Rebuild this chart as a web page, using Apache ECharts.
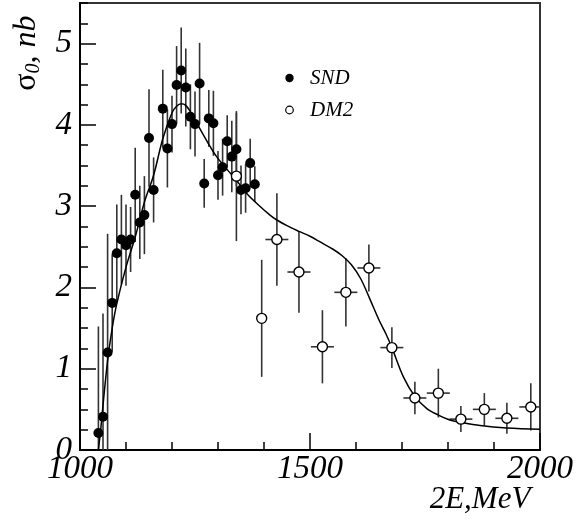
<!DOCTYPE html>
<html><head><meta charset="utf-8">
<script src="https://cdn.jsdelivr.net/npm/echarts@6/dist/echarts.min.js"></script>
<style>html,body{margin:0;padding:0;background:#fff}#c{width:584px;height:521px}</style>
</head><body><div id="c"></div>
<script>
const sndX = [1040,1050,1060,1070,1080,1090,1100,1110,1120,1130,1140,1150,1160,1180,1190,1200,1210,1220,1230,1240,1250,1260,1270,1280,1290,1300,1310,1320,1330,1340,1350,1360,1370,1380];
const sndY = [0.21,0.41,1.20,1.81,2.42,2.59,2.52,2.59,3.14,2.80,2.89,3.84,3.20,4.20,3.71,4.01,4.49,4.67,4.46,4.10,4.01,4.51,3.28,4.08,4.02,3.38,3.48,3.80,3.61,3.70,3.20,3.22,3.53,3.27];
const sndErr = [1.31,1.27,1.46,0.6,0.6,0.55,0.5,0.4,0.58,0.45,0.48,0.6,0.4,0.48,0.48,0.35,0.48,0.53,0.48,0.4,0.4,0.5,0.3,0.35,0.4,0.3,0.35,0.32,0.44,0.45,0.3,0.3,0.3,0.22];

const dm2X = [1340,1395,1428,1476,1527,1578,1628,1678,1728,1779,1828,1879,1928,1980];
const dm2Y = [3.37,1.62,2.59,2.19,1.27,1.94,2.24,1.26,0.64,0.70,0.38,0.50,0.39,0.53];
const dm2ErrY = [0.8,0.72,0.57,0.5,0.45,0.42,0.29,0.25,0.2,0.3,0.16,0.2,0.19,0.29];
const dm2ErrX = [0,0,25,25,25,25,25,25,25,25,25,25,25,25];

const fitX = [1040,1045,1050,1060,1070,1080,1100,1120,1140,1160,1180,1200,1210,1220,1230,1240,1255,1275,1297,1320,1340,1362,1385,1413,1428,1450,1476,1500,1522,1550,1570,1590,1610,1630,1650,1665,1678,1703,1728,1754,1779,1804,1828,1870,1928,2000];
const fitY = [0.0,0.25,0.55,1.1,1.5,1.8,2.25,2.62,3.05,3.38,3.83,4.15,4.23,4.26,4.24,4.16,4.01,3.81,3.61,3.45,3.32,3.16,3.03,2.89,2.83,2.76,2.69,2.63,2.56,2.47,2.39,2.28,2.11,1.86,1.60,1.43,1.26,0.9,0.66,0.51,0.43,0.37,0.34,0.3,0.27,0.255];

const xMin = 1000, xMax = 2000, xMajor = 500, xMinor = 100;
const yMin = 0, yMax = 5.5, yMajor = 1, yMinor = 0.25;

const FONT = 'Liberation Serif';

function errRender(params, api) {
  const x = api.value(0), y = api.value(1), ey = api.value(2), ex = api.value(3);
  const lo = api.coord([x, Math.max(y - ey, yMin)]);
  const hi = api.coord([x, Math.min(y + ey, yMax)]);
  const st = {stroke: '#333', lineWidth: 1.6};
  const children = [{type: 'line', shape: {x1: lo[0], y1: lo[1], x2: hi[0], y2: hi[1]}, style: st}];
  if (ex > 0) {
    const l = api.coord([x - ex, y]), r = api.coord([x + ex, y]);
    children.push({type: 'line', shape: {x1: l[0], y1: l[1], x2: r[0], y2: r[1]}, style: st});
  }
  return {type: 'group', children};
}

const chart = echarts.init(document.getElementById('c'));
const grid = {left: 80, right: 44, top: 3, bottom: 71, show: true, borderColor: '#333', borderWidth: 2, backgroundColor: 'transparent'};
chart.setOption({
  animation: false,
  backgroundColor: '#fff',
  grid: grid,
  xAxis: [
    {type: 'value', min: xMin, max: xMax, interval: xMajor, position: 'bottom',
     axisLine: {show: true, lineStyle: {color: '#000', width: 2}},
     axisTick: {show: true, inside: true, length: 17, lineStyle: {color: '#000', width: 1.5}},
     splitLine: {show: false},
     axisLabel: {fontFamily: FONT, fontStyle: 'italic', fontSize: 33, color: '#000', margin: 3, formatter: v => String(v)}},
    {type: 'value', min: xMin, max: xMax, interval: xMinor, position: 'bottom',
     axisLine: {show: false},
     axisTick: {show: true, inside: true, length: 8, lineStyle: {color: '#000', width: 1.5}},
     splitLine: {show: false}, axisLabel: {show: false}}
  ],
  yAxis: [
    {type: 'value', min: yMin, max: yMax, interval: yMajor, position: 'left',
     axisLine: {show: true, lineStyle: {color: '#000', width: 2}},
     axisTick: {show: true, inside: true, length: 16, lineStyle: {color: '#000', width: 1.5}},
     splitLine: {show: false},
     axisLabel: {fontFamily: FONT, fontStyle: 'italic', fontSize: 33, color: '#000', margin: 8, showMaxLabel: false, formatter: v => String(v)}},
    {type: 'value', min: yMin, max: yMax, interval: yMinor, position: 'left',
     axisLine: {show: false},
     axisTick: {show: true, inside: true, length: 8, lineStyle: {color: '#000', width: 1.5}},
     splitLine: {show: false}, axisLabel: {show: false}}
  ],
  series: [
    {type: 'custom', name: 'SND err', renderItem: errRender, clip: true, z: 2,
     data: sndX.map((x, i) => [x, sndY[i], sndErr[i], 0])},
    {type: 'custom', name: 'DM2 err', renderItem: errRender, clip: true, z: 2,
     data: dm2X.map((x, i) => [x, dm2Y[i], dm2ErrY[i], dm2ErrX[i]])},
    {type: 'line', name: 'fit', smooth: 0.35, symbol: 'none', z: 3,
     lineStyle: {color: '#000', width: 1.5},
     data: fitX.map((x, i) => [x, fitY[i]])},
    {type: 'scatter', name: 'SND', symbol: 'circle', symbolSize: 10, z: 4,
     itemStyle: {color: '#000', opacity: 1},
     data: sndX.map((x, i) => [x, sndY[i]])},
    {type: 'scatter', name: 'DM2', symbol: 'circle', symbolSize: 10, z: 5,
     itemStyle: {color: '#fff', borderColor: '#000', borderWidth: 1.4, opacity: 1},
     data: dm2X.map((x, i) => [x, dm2Y[i]])}
  ],
  graphic: [
    {type: 'text', x: 27, y: 53, rotation: Math.PI / 2,
     style: {text: '{s|σ}{sub|0}{r|, nb}', align: 'center', verticalAlign: 'middle',
       rich: {
         s: {fontFamily: FONT, fontSize: 32, fill: '#000'},
         sub: {fontFamily: FONT, fontStyle: 'italic', fontSize: 20, fill: '#000', verticalAlign: 'bottom', padding: [14, 0, 0, 0]},
         r: {fontFamily: FONT, fontStyle: 'italic', fontSize: 32, fill: '#000'}
       }}},
    {type: 'text', x: 480, y: 500,
     style: {text: '2E,MeV', fontFamily: FONT, fontStyle: 'italic', fontSize: 31, fill: '#000', align: 'center', verticalAlign: 'middle'}},
    {type: 'circle', shape: {cx: 289.5, cy: 78, r: 4.2}, style: {fill: '#000'}},
    {type: 'text', x: 310, y: 78,
     style: {text: 'SND', fontFamily: FONT, fontStyle: 'italic', fontSize: 21, fill: '#000', align: 'left', verticalAlign: 'middle'}},
    {type: 'circle', shape: {cx: 289.5, cy: 110, r: 3.8}, style: {fill: '#fff', stroke: '#000', lineWidth: 1.2}},
    {type: 'text', x: 310, y: 110,
     style: {text: 'DM2', fontFamily: FONT, fontStyle: 'italic', fontSize: 21, fill: '#000', align: 'left', verticalAlign: 'middle'}}
  ]
});
</script></body></html>
